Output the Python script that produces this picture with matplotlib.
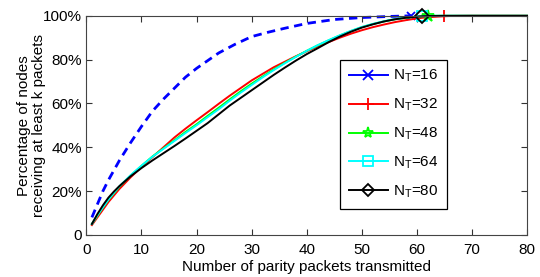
import numpy as np
import matplotlib
matplotlib.use("Agg")
import matplotlib.pyplot as plt
from matplotlib.lines import Line2D
from matplotlib.ticker import FixedLocator, FuncFormatter

plt.rcParams['font.family'] = ['Liberation Sans', 'DejaVu Sans']
plt.rcParams['mathtext.default'] = 'regular'

# dashed curve (N_T=16 in the picture, marker at its end)
x_dash = [1, 2, 3, 4, 5, 6, 8, 10, 12, 14, 16, 18, 20, 22, 24, 27, 30, 33, 36, 40, 45, 50, 55, 59]
y_dash = [8, 14, 20, 25, 29.5, 34, 42, 49.5, 56.5, 62, 67, 72, 76, 79.5, 83, 87, 90.5, 92.5, 94.3, 96.5, 98.3, 99.2, 99.7, 100]

x_sol = [1, 2, 3, 4, 5, 6, 8, 10, 12, 14, 16, 18, 20, 22, 24, 26, 28, 30, 32, 34, 36, 38,
         40, 42, 44, 46, 48, 50, 52, 54, 56, 58, 60, 61, 62, 63, 65, 66, 70, 80]

y_32 = [4.5, 8, 11.5, 15, 18, 21, 26.2, 31, 35.5, 40, 44.5, 48.5, 52.3, 56, 59.8, 63.5, 67, 70.5, 73.5, 76.5, 79, 81.5,
        83.8, 86, 88, 90, 91.8, 93.4, 94.8, 96, 97.1, 98, 98.8, 99.1, 99.3, 99.5, 99.8, 99.9, 100, 100]
y_48 = [5, 8.8, 12.5, 16, 19, 22, 27, 31.5, 35.8, 39.5, 43.2, 47, 50.5, 54.3, 58, 61.8, 65.5, 69, 72.3, 75.5, 78.5, 81.3,
        84, 86.5, 88.8, 91, 93, 94.8, 96.2, 97.4, 98.4, 99.1, 99.6, 99.8, 99.9, 100, 100, 100, 100, 100]
y_64 = [5, 8.9, 12.6, 16.1, 19.2, 22.2, 27.2, 31.6, 35.7, 39.3, 42.9, 46.5, 50, 53.7, 57.3, 61.2, 64.9, 68.4, 71.9, 75.2, 78.3, 81.2,
        84, 86.6, 88.9, 91.1, 93.1, 94.9, 96.3, 97.5, 98.5, 99.2, 99.6, 99.8, 99.9, 100, 100, 100, 100, 100]
y_80 = [5, 9.5, 13.5, 17, 19.8, 22.3, 26.7, 30.5, 34, 37.3, 40.6, 44, 47.5, 51, 55, 59, 62.5, 66, 69.5, 73, 76.3, 79.5,
        82.5, 85.2, 88, 90.5, 92.7, 94.6, 96.1, 97.4, 98.4, 99.1, 99.6, 99.8, 99.9, 99.9, 100, 100, 100, 100]

labels = ['N$_T$=16', 'N$_T$=32', 'N$_T$=48', 'N$_T$=64', 'N$_T$=80']
colors = ['#0000ff', '#ff0000', '#00ff00', '#00ffff', '#000000']
markers = ['x', '+', '*', 's', 'D']
end_x = [59, 65, 62, 61, 61]

fig = plt.figure(figsize=(5.4, 2.77), dpi=100)
ax = fig.add_axes([0.160, 0.152, 0.816, 0.791])

ax.plot(np.array(x_dash), np.array(y_dash) / 100, color=colors[0], lw=2.0, dashes=(3, 2),
        marker=markers[0], markevery=[len(x_dash) - 1], ms=6, mew=1.3, clip_on=False)

solid = [y_32, y_48, y_64, y_80]
for i, ys in enumerate(solid):
    c = colors[i + 1]
    ax.plot(x_sol, np.array(ys) / 100, color=c, lw=1.4, marker=markers[i + 1],
            markevery=[x_sol.index(end_x[i + 1])], ms=9 if markers[i + 1] in '+*' else 7,
            mfc='none', mew=1.3, clip_on=False)

handles = [Line2D([], [], color=colors[i], lw=1.4, marker=markers[i], mfc='none', mew=1.3,
                  ms=8 if markers[i] in '+*' else 6.5) for i in range(5)]
leg = ax.legend(handles, labels, loc='upper left', bbox_to_anchor=(0.576, 0.80), borderaxespad=0,
                fontsize=11, handlelength=2.6, handletextpad=0.3, labelspacing=0.82,
                borderpad=0.55, fancybox=False, framealpha=1, edgecolor='#000000')
leg.get_frame().set_linewidth(0.9)

ax.set_xlim(0, 80)
ax.set_ylim(0, 1)
ax.xaxis.set_major_locator(FixedLocator(range(0, 81, 10)))
ax.yaxis.set_major_locator(FixedLocator([0, 0.2, 0.4, 0.6, 0.8, 1.0]))
ax.yaxis.set_major_formatter(FuncFormatter(lambda v, p: '0' if v == 0 else '%d%%' % round(v * 100)))
ax.tick_params(direction='in', top=True, right=True, length=4, width=0.8, labelsize=11, colors='#333333',
               labelcolor='#000000')
ax.tick_params(axis='x', pad=6)
ax.tick_params(axis='y', pad=3)
for s in ax.spines.values():
    s.set_color('#444444')
    s.set_linewidth(0.8)

ax.set_xlabel('Number of parity packets transmitted', fontsize=11, labelpad=2)
ax.set_ylabel('Percentage of nodes\nreceiving at least k packets', fontsize=11, labelpad=-2, linespacing=1.1)

fig.savefig('out.png', dpi=100)
